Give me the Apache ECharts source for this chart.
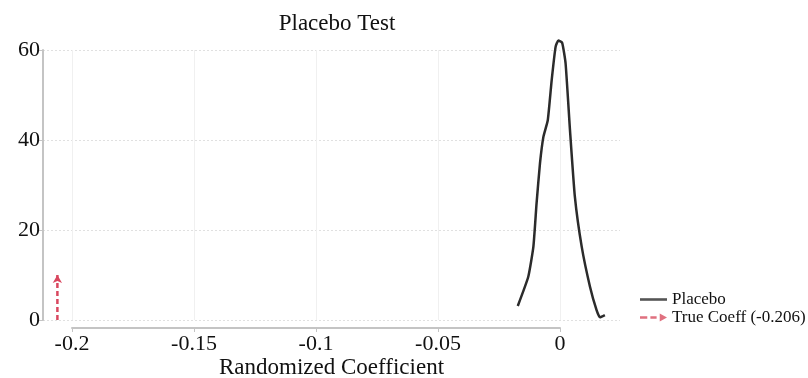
<!DOCTYPE html>
<html><head><meta charset="utf-8">
<script src="https://cdn.jsdelivr.net/npm/echarts@6/dist/echarts.min.js"></script>
<style>html,body{margin:0;padding:0;background:#fff}#c{width:808px;height:378px}</style>
</head><body><div id="c"></div>
<script>
const xTicks = [-0.2, -0.15, -0.1, -0.05, 0];
const yTicks = [0, 20, 40, 60];
const placeboX = [-0.0173,-0.0130,-0.0109,-0.0096,-0.0082,-0.0068,-0.0050,-0.0034,-0.0018,-0.0007,0.0009,0.0023,0.0041,0.0061,0.0089,0.0123,0.0150,0.0164,0.0184];
const placeboY = [3.1,9.6,16.3,25.9,34.8,40.7,44.4,53.3,60.7,62.1,61.6,57,42.2,27.4,16.3,7.4,2.2,0.6,1.1];
const trueCoeff = -0.206;
const arrowY = [0, 10];

const serif = '"Liberation Serif", "Times New Roman", serif';
const axisGray = '#c4c4c4';
const red = '#d9475f';
const chart = echarts.init(document.getElementById('c'));
chart.setOption({
  animation: false,
  title: { text: 'Placebo Test', left: 332, top: 7, textAlign: 'center',
    textStyle: { fontFamily: serif, fontSize: 23, fontWeight: 'normal', color: '#111' } },
  legend: {
    orient: 'vertical', left: 635, top: 286, itemWidth: 27, itemHeight: 12, itemGap: 1,
    textStyle: { fontFamily: serif, fontSize: 17, color: '#111', lineHeight: 16 },
    data: [
      { name: 'Placebo', icon: 'path://M0,5H26V7.5H0Z', itemStyle: { color: '#555' } },
      { name: 'True Coeff (-0.206)', icon: 'path://M0,5H7V7.5H0Z M10,5H16V7.5H10Z M19,2.5L26,6.25L19,10Z', itemStyle: { color: '#e0707f' } }
    ]
  },
  grid: [
    { left: 43, width: 577, top: 38.75, height: 281.25, outerBoundsMode: 'none', containLabel: false },
    { left: 43, width: 577, top: 50, height: 270, outerBoundsMode: 'none', containLabel: false },
    { left: 72, width: 488, top: 50, height: 270, outerBoundsMode: 'none', containLabel: false }
  ],
  xAxis: [
    { gridIndex: 0, type: 'value', min: -0.2119, max: 0.0246, show: false },
    { gridIndex: 1, type: 'value', min: 0, max: 1, show: true,
      axisLine: { show: false }, axisTick: { show: false }, axisLabel: { show: false }, splitLine: { show: false },
      name: 'Randomized Coefficient', nameLocation: 'middle', nameGap: 36,
      nameTextStyle: { fontFamily: serif, fontSize: 23, color: '#111' } },
    { gridIndex: 2, type: 'value', min: xTicks[0], max: xTicks[xTicks.length-1], interval: 0.05, offset: 8,
      axisLine: { show: true, onZero: false, lineStyle: { color: axisGray, width: 2 } },
      axisTick: { show: true, length: 4, lineStyle: { color: axisGray } },
      axisLabel: { fontFamily: serif, fontSize: 22, color: '#111', margin: 5,
        formatter: v => String(Math.round(v*100)/100) },
      splitLine: { show: true, lineStyle: { color: '#f0f0f0', width: 1 } } }
  ],
  yAxis: [
    { gridIndex: 0, type: 'value', min: 0, max: 62.5, show: false },
    { gridIndex: 1, type: 'value', min: yTicks[0], max: yTicks[yTicks.length-1], interval: 20,
      axisLine: { show: true, onZero: false, lineStyle: { color: axisGray, width: 2 } },
      axisTick: { show: true, length: 5, lineStyle: { color: axisGray } },
      axisLabel: { fontFamily: serif, fontSize: 22, color: '#111', margin: 3 },
      splitLine: { show: true, lineStyle: { color: '#e0e0e0', type: [2, 2], width: 1 } } },
    { gridIndex: 2, type: 'value', min: 0, max: 60, show: false }
  ],
  series: [
    { name: 'Placebo', type: 'line', xAxisIndex: 0, yAxisIndex: 0,
      data: placeboX.map((x, i) => [x, placeboY[i]]), smooth: 0.15, showSymbol: false, symbol: 'none',
      lineStyle: { color: '#2b2b2b', width: 2.5 }, itemStyle: { color: '#555' } },
    { name: 'True Coeff (-0.206)', type: 'line', xAxisIndex: 0, yAxisIndex: 0,
      data: [
        { value: [trueCoeff, arrowY[0]], symbol: 'none' },
        { value: [trueCoeff, arrowY[1]], symbol: 'arrow', symbolSize: [7, 8] }
      ],
      showSymbol: true, symbol: 'arrow',
      lineStyle: { color: red, width: 2.5, type: [5, 3] }, itemStyle: { color: red } }
  ]
});
</script>
</body></html>
